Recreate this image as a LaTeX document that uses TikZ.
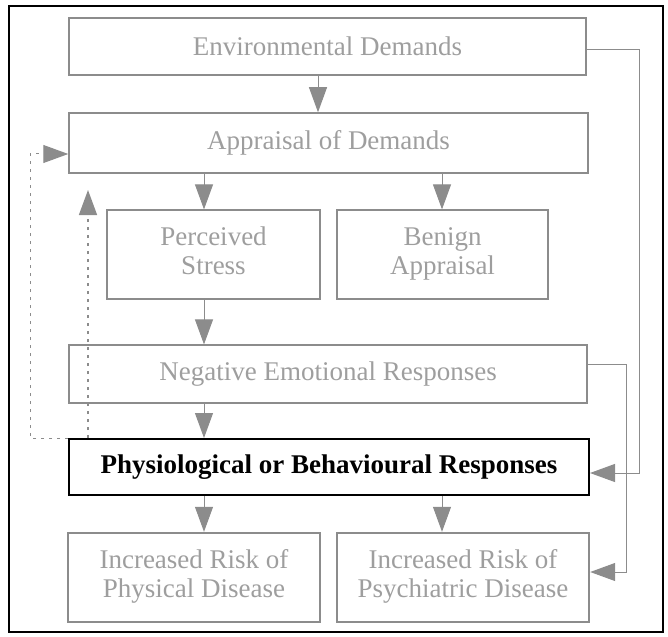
\documentclass[tikz,border=0pt]{standalone}
\usepackage{fontspec}
\setmainfont{Liberation Serif}
\usetikzlibrary{arrows.meta}
\begin{document}
\begin{tikzpicture}[x=1pt,y=-1pt,
  greybox/.style={draw=black!45, line width=1.2pt, text=black!38, inner sep=0pt,
    align=center, font=\fontsize{27}{29}\selectfont},
  riskbox/.style={greybox, line width=2.4pt},
  keybox/.style={draw=black, line width=2pt, fill=white, inner sep=0pt,
    font=\fontsize{27}{29}\selectfont\bfseries},
  flow/.style={draw=black!45, line width=1pt,
    -{Triangle[width=18pt,length=25pt]}, black!45},
  loopline/.style={flow, dash pattern=on 3pt off 5pt},
]
\useasboundingbox (0,0) rectangle (668,636);
\draw[line width=2pt] (9,6) rectangle (663,632);

% boxes
\node[greybox, minimum width=517pt, minimum height=57pt] (env) at (327.5,46.5) {Environmental Demands};
\node[greybox, line width=1.5pt, minimum width=519pt, minimum height=60pt] (app) at (328.5,143) {Appraisal of Demands};
\node[greybox, minimum width=213pt, minimum height=89pt] (per) at (213.5,254.5) {Perceived\strut\\Stress\strut};
\node[greybox, minimum width=211pt, minimum height=89pt] (ben) at (442.5,254.5) {Benign\strut\\Appraisal\strut};
\node[greybox, minimum width=518pt, minimum height=58pt] (neg) at (328,374) {Negative Emotional Responses};
\node[keybox, minimum width=520pt, minimum height=56pt] (phy) at (329,467) {Physiological or Behavioural Responses};
\node[riskbox, minimum width=252pt, minimum height=89pt] (pd) at (194,577.5) {Increased Risk of\strut\\Physical Disease\strut};
\node[riskbox, minimum width=252pt, minimum height=89pt] (psy) at (463,577.5) {Increased Risk of\strut\\Psychiatric Disease\strut};

% column positions of the vertical connectors
\coordinate (cA) at (318,0);
\coordinate (cB) at (204,0);
\coordinate (cC) at (442,0);
\coordinate (rOut) at (639,0);
\coordinate (rIn) at (626,0);
\coordinate (lOut) at (30,0);
\coordinate (fbtip) at (88,190);

% main downward flow
\draw[flow] (env.south -| cA) -- (app.north -| cA);
\draw[flow] (app.south -| cB) -- (per.north -| cB);
\draw[flow] (app.south -| cC) -- (ben.north -| cC);
\draw[flow] (per.south -| cB) -- (neg.north -| cB);
\draw[flow] (neg.south -| cB) -- (phy.north -| cB);
\draw[flow] (phy.south -| cB) -- (pd.north -| cB);
\draw[flow] (phy.south -| cC) -- (psy.north -| cC);

% feedback loops on the left
\draw[loopline] (phy.north west) -- (phy.north west -| lOut)
  -- ([yshift=-11pt]app.west -| lOut) -- ([yshift=-11pt]app.west);
\draw[loopline, line width=1.4pt] (phy.north -| fbtip) -- (fbtip);

% direct routes on the right
\draw[flow] ([yshift=-3.5pt]env.east) -- ([yshift=-3.5pt]env.east -| rOut)
  -- ([yshift=-6pt]phy.east -| rOut) -- ([yshift=-6pt]phy.east);
\draw[flow] ([yshift=10pt]neg.east) -- ([yshift=10pt]neg.east -| rIn)
  -- ([yshift=5.5pt]psy.east -| rIn) -- ([yshift=5.5pt]psy.east);
\end{tikzpicture}
\end{document}
